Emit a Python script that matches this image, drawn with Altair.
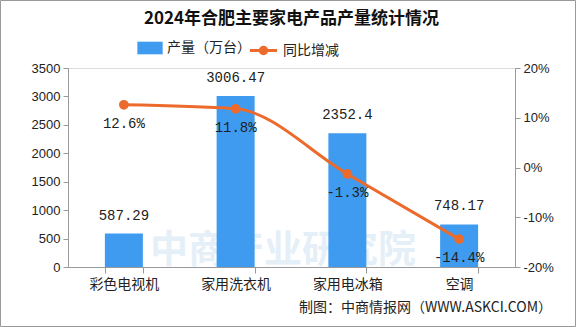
import altair as alt
import pandas as pd

categories = ["彩色电视机", "家用洗衣机", "家用电冰箱", "空调"]
output = [587.29, 3006.47, 2352.4, 748.17]
growth = [12.6, 11.8, -1.3, -14.4]
output_labels = ["587.29", "3006.47", "2352.4", "748.17"]
growth_labels = ["12.6%", "11.8%", "-1.3%", "-14.4%"]

df = pd.DataFrame({
    "cat": categories,
    "output": output,
    "growth": growth,
    "olab": output_labels,
    "glab": growth_labels,
})

BLUE = "#3E9BF0"
ORANGE = "#EC6A2B"
CJK = "Noto Sans CJK SC"

x_enc = alt.X(
    "cat:N",
    sort=categories,
    scale=alt.Scale(paddingInner=0.66, paddingOuter=0.33),
    axis=alt.Axis(
        title=None, labelAngle=0, labelFontSize=14, labelFont=CJK,
        labelColor="#222", labelPadding=4, tickBand="extent", tickSize=6,
        domainColor="#999", tickColor="#999",
    ),
)

y_left = alt.Y(
    "output:Q",
    scale=alt.Scale(domain=[0, 3500], nice=False),
    axis=alt.Axis(
        title=None, values=[0, 500, 1000, 1500, 2000, 2500, 3000, 3500],
        format="d", grid=False, labelFontSize=13, labelColor="#222",
        domainColor="#999", tickColor="#999", tickSize=5, labelPadding=3,
    ),
)

y_right = alt.Y(
    "growth:Q",
    scale=alt.Scale(domain=[-20, 20], nice=False),
    axis=alt.Axis(
        title=None, orient="right", values=[-20, -10, 0, 10, 20],
        labelExpr="datum.value + '%'", grid=False, labelFontSize=13,
        labelColor="#222", domainColor="#999", tickColor="#999", tickSize=5,
        labelPadding=3,
    ),
)

base = alt.Chart(df)

bars = base.mark_bar(color=BLUE).encode(
    x=x_enc,
    y=y_left,
    color=alt.Color(
        "legend_b:N",
        scale=alt.Scale(domain=["产量（万台）"], range=[BLUE]),
        legend=alt.Legend(
            title=None, orient="none", legendX=69, legendY=-33,
            symbolType="M-1,-0.5H1V0.5H-1Z", symbolSize=640,
            symbolStrokeWidth=0, labelFontSize=14, labelFont=CJK,
            labelColor="#222", labelOffset=4,
        ),
    ),
).transform_calculate(legend_b="'产量（万台）'")

bar_text = base.mark_text(
    fontSize=14, color="#222", baseline="middle", dy=-18, font="Liberation Mono"
).encode(x=x_enc, y=y_left, text="olab:N")

left = alt.layer(bars, bar_text)

line = base.mark_line(
    color=ORANGE, strokeWidth=3, interpolate="monotone",
    point=alt.OverlayMarkDef(filled=True, size=60, color=ORANGE),
).encode(
    x=x_enc,
    y=y_right,
    stroke=alt.Stroke(
        "legend_l:N",
        scale=alt.Scale(domain=["同比增减"], range=[ORANGE]),
        legend=alt.Legend(
            title=None, orient="none", legendX=180, legendY=-33,
            symbolType="M-1,0H1M0.24,0A0.24,0.24,0,1,1,-0.24,0A0.24,0.24,0,1,1,0.24,0Z",
            symbolSize=740, symbolStrokeWidth=3, symbolFillColor=ORANGE,
            symbolStrokeColor=ORANGE, labelFontSize=14, labelFont=CJK,
            labelColor="#222", labelOffset=4,
        ),
    ),
).transform_calculate(legend_l="'同比增减'")

line_text = base.mark_text(
    fontSize=14, color="#222", baseline="middle", dy=19, font="Liberation Mono"
).encode(x=x_enc, y=y_right, text="glab:N")

right = alt.layer(line, line_text)

one = pd.DataFrame({"k": [0]})

watermark = alt.Chart(one).mark_text(
    fontSize=38, fontWeight="bold", font=CJK, color="#8DB8E3", opacity=0.22,
    align="center", baseline="middle",
).encode(x=alt.value(215), y=alt.value(183), text=alt.value("中商产业研究院"))

source = alt.Chart(one).mark_text(
    fontSize=14, font=CJK, color="#222", align="right", baseline="middle",
).encode(x=alt.value(484), y=alt.value(240),
         text=alt.value("制图：中商情报网（WWW.ASKCI.COM）"))

border = alt.Chart(one).mark_rect(
    fill="white", fillOpacity=0, stroke="#999", strokeWidth=1
).encode(x=alt.value(-67.5), x2=alt.value(507.5), y=alt.value(-67.5), y2=alt.value(258.5))

chart = alt.layer(watermark, left, right, source, border).resolve_scale(
    y="independent", color="independent", stroke="independent"
).properties(
    width=447, height=199,
    padding={"left": 68, "top": 68, "right": 61, "bottom": 60},
    autosize=alt.AutoSizeParams(type="none"),
    title=alt.Title(
        "2024年合肥主要家电产品产量统计情况", fontSize=17, font=CJK,
        fontWeight="bold", color="#111", anchor="middle", offset=0, dy=28,
    ),
).configure_view(stroke=None).configure(background="white")

chart.save("out.html", embed_options={"renderer": "svg", "actions": False})
